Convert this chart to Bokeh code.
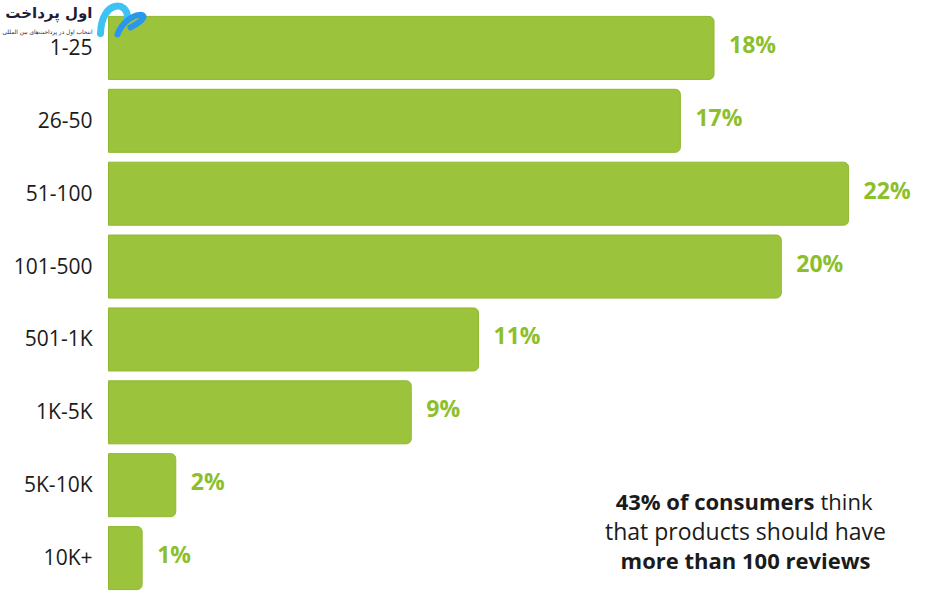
from bokeh.plotting import figure
from bokeh.models import Range1d
from bokeh.core.properties import value
from bokeh.embed import file_html
from bokeh.resources import INLINE

# ---- data ----
categories = ["1-25", "26-50", "51-100", "101-500", "501-1K", "1K-5K", "5K-10K", "10K+"]
shares = [18, 17, 22, 20, 11, 9, 2, 1]
share_labels = ["18%", "17%", "22%", "20%", "11%", "9%", "2%", "1%"]

BAR = "#9bc33b"
BAR_EDGE = "#8fb832"
TXT_GREEN = "#8dbf2d"
DARK = "#1b1b1b"
FONT = "Open Sans"

W, H = 930, 594
TOP = 11
PX_PER_UNIT = 33.64
LEFT_PX = 108
N = len(categories)
ROW_PX = 583 / N

# row position of each category (top row first)
rows = [N - 0.5 - i for i, _ in enumerate(categories)]

p = figure(width=W, height=H, output_backend="svg", toolbar_location=None,
           x_range=Range1d(-LEFT_PX / PX_PER_UNIT, (W - LEFT_PX) / PX_PER_UNIT),
           y_range=Range1d(N - H / ROW_PX + TOP / ROW_PX, N + TOP / ROW_PX),
           x_axis_location=None, y_axis_location=None,
           min_border_left=0, min_border_right=0, min_border_bottom=0, min_border_top=0)
p.outline_line_color = None
p.grid.visible = False
p.background_fill_color = "white"


def px_x(img_x):
    return (img_x - LEFT_PX) / PX_PER_UNIT


def px_y(img_y):
    return N - (img_y - TOP) / ROW_PX


# bars
p.hbar(y=rows, right=shares, left=0, height=0.865, fill_color=BAR,
       line_color=BAR_EDGE, line_width=1, border_radius=(0, 5, 5, 0))

# value labels
p.text(x=shares, y=rows, text=share_labels, x_offset=15, y_offset=-4,
       text_baseline="middle", text_align="left", text_font=value(FONT),
       text_font_size="23px", text_color=TXT_GREEN, text_font_style="bold")

# category labels
p.text(x=[0] * N, y=rows, text=categories, x_offset=-16, y_offset=-1,
       text_baseline="middle", text_align="right", text_font=value(FONT),
       text_font_size="21px", text_color=DARK)

# annotation
cx = 745
p.text(x=[px_x(814)], y=[px_y(500)], text=["43% of consumers"], text_align="right",
       text_baseline="middle", text_font=value(FONT), text_font_size="22px",
       text_font_style="bold", text_color=DARK)
p.text(x=[px_x(820)], y=[px_y(500)], text=["think"], text_align="left",
       text_baseline="middle", text_font=value(FONT), text_font_size="22px",
       text_color=DARK)
p.text(x=[px_x(cx)], y=[px_y(530)], text=["that products should have"], text_align="center",
       text_baseline="middle", text_font=value(FONT), text_font_size="23px",
       text_color=DARK)
p.text(x=[px_x(cx)], y=[px_y(559)], text=["more than 100 reviews"], text_align="center",
       text_baseline="middle", text_font=value(FONT), text_font_size="22px",
       text_font_style="bold", text_color=DARK)

# logo
p.text(x=[px_x(92)], y=[px_y(12)], text=["اول پرداخت"], text_align="right",
       text_baseline="middle", text_font=value("DejaVu Sans"), text_font_size="15px",
       text_font_style="bold", text_color="#1d1d35")
p.text(x=[px_x(92)], y=[px_y(31)], text=["انتخاب اول در پرداخت‌های بین المللی"], text_align="right",
       text_baseline="middle", text_font=value("DejaVu Sans"), text_font_size="5.8px",
       text_color="#1d1d35")
p.bezier(x0=[px_x(100)], y0=[px_y(33)], x1=[px_x(127)], y1=[px_y(18)],
         cx0=[px_x(101)], cy0=[px_y(-1)], cx1=[px_x(128)], cy1=[px_y(0)],
         line_color="#3cc3f4", line_width=7, line_cap="round")
p.bezier(x0=[px_x(117)], y0=[px_y(34)], x1=[px_x(130)], y1=[px_y(27)],
         cx0=[px_x(126)], cy0=[px_y(8)], cx1=[px_x(162)], cy1=[px_y(10)],
         line_color="#2a97ee", line_width=6, line_cap="round")

open("out.html", "w").write(file_html(p, INLINE))
